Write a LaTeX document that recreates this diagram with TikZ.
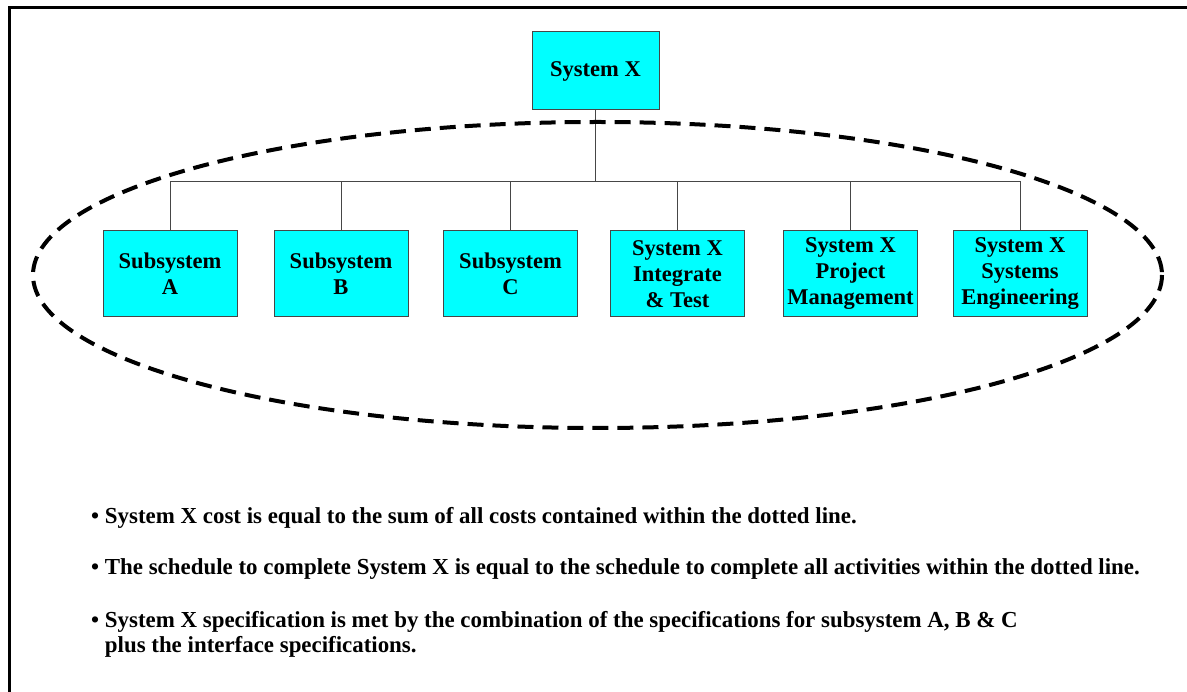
\documentclass[tikz,border=0pt]{standalone}
\usepackage{fontspec}
\setmainfont{Liberation Serif}
\definecolor{boxcyan}{RGB}{0,255,255}
\definecolor{edgegray}{RGB}{70,70,70}
\begin{document}
\begin{tikzpicture}[x=1pt,y=-1pt,
  wbs/.style={draw=edgegray, line width=1pt, fill=boxcyan, minimum width=134pt,
    minimum height=86pt, inner sep=0pt, outer sep=0pt, align=center,
    font=\fontsize{22.5}{26}\selectfont\bfseries},
  link/.style={draw=edgegray, line width=1pt},
  boundary/.style={draw=black, line width=4pt, dash pattern=on 16pt off 9pt},
  note/.style={anchor=base west, inner sep=0pt, align=left,
    font=\fontsize{22.9}{25}\selectfont\bfseries}]
  \useasboundingbox (0,0) rectangle (1187,692);

  % page frame (left and top edges)
  \draw[line width=3pt] (9.5,692) -- (9.5,7.5) -- (1187,7.5);

  % top element
  \node[wbs, minimum width=127pt, minimum height=78pt] (top) at (595.5,71) {System X};

  % second level elements
  \node[wbs] (subA) at (170,274)   {Subsystem\\A};
  \node[wbs] (subB) at (341,274)   {Subsystem\\B};
  \node[wbs] (subC) at (510.5,274) {Subsystem\\C};
  \node[wbs] (intg) at (677.5,274) {System X\\Integrate\\\& Test};
  \node[wbs] (pm)   at (850.5,274) {System X\\Project\\Management};
  \node[wbs] (se)   at (1020,274)  {System X\\Systems\\Engineering};

  % tree connectors
  \coordinate (bus) at (595.5,182);
  \draw[link] (top.south) -- (bus);
  \foreach \c in {subA,subB,subC,intg,pm,se}
    \draw[link] (bus) -| (\c.north);

  % boundary around everything included in System X
  \draw[boundary] (597.5,275) ellipse [x radius=564.5, y radius=153];

  % notes
  \node[note] (n1) at (91,524) {\textbullet\ System X cost is equal to the sum of all costs contained within the dotted line.};
  \node[note] (n2) at (91,574) {\textbullet\ The schedule to complete System X is equal to the schedule to complete all activities within the dotted line.};
  \node[note] (n3) at (91,652) {\textbullet\ System X specification is met by the combination of the specifications for subsystem A, B \& C\\
  \phantom{\textbullet\ }plus the interface specifications.};
\end{tikzpicture}
\end{document}
